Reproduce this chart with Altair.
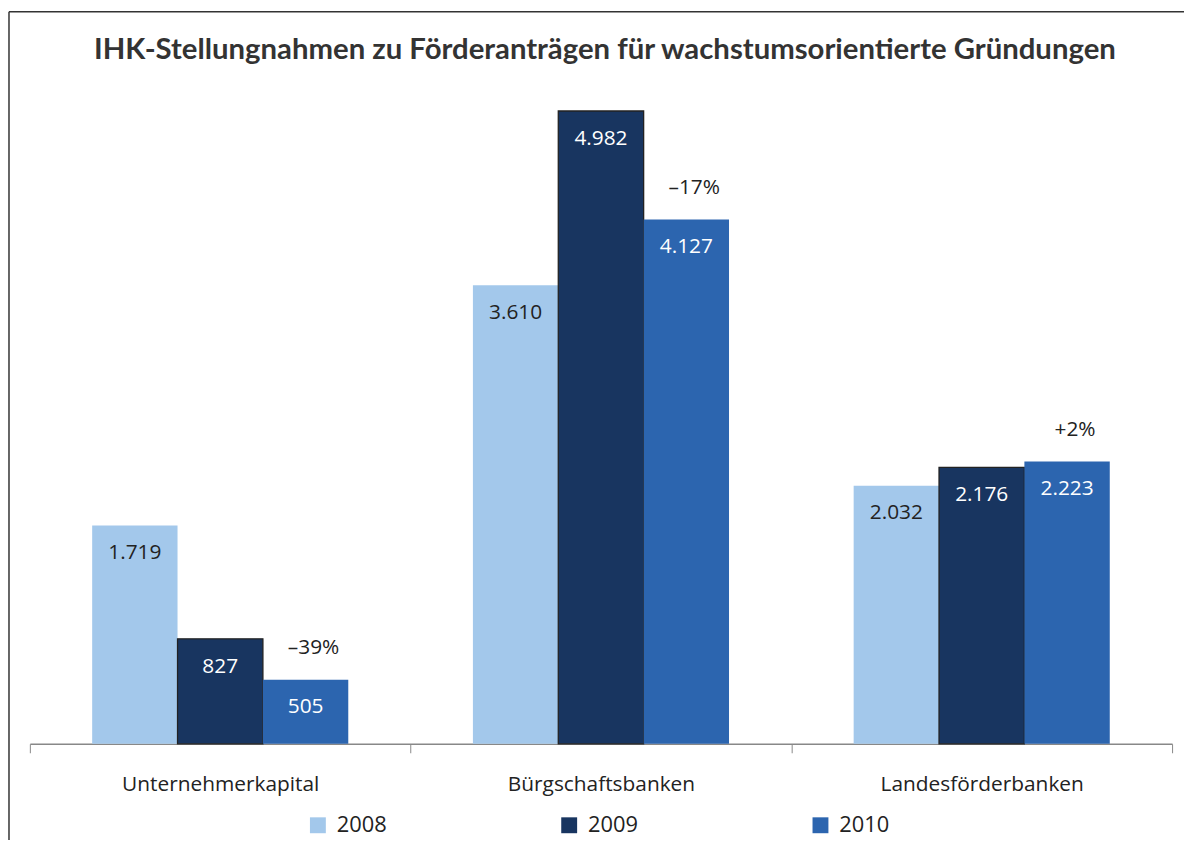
import altair as alt
import pandas as pd

categories = ["Unternehmerkapital", "Bürgschaftsbanken", "Landesförderbanken"]
years = ["2008", "2009", "2010"]
values_2008 = [1719, 3610, 2032]
values_2009 = [827, 4982, 2176]
values_2010 = [505, 4127, 2223]
change_labels = ["–39%", "–17%", "+2%"]
colors = ["#A3C8EB", "#183560", "#2C65AF"]
title_text = "IHK-Stellungnahmen zu Förderanträgen für wachstumsorientierte Gründungen"

rows = []
for i, c in enumerate(categories):
    for y, vals in zip(years, [values_2008, values_2009, values_2010]):
        rows.append({"category": c, "year": y, "value": vals[i]})
df = pd.DataFrame(rows)
ann = pd.DataFrame({"category": categories, "year": ["2010"] * 3,
                    "value": values_2010, "label": change_labels})

FONT = "Open Sans"
TITLE_FONT = "Lato"

xenc = alt.X("category:N", sort=categories,
             scale=alt.Scale(paddingInner=0, paddingOuter=0),
             axis=alt.Axis(title=None, labelAngle=0, tickBand="extent", tickSize=9,
                           domainColor="#888", tickColor="#888", domainWidth=1.5,
                           labelFontSize=21, labelFont=FONT, labelColor="#222",
                           labelPadding=21, labelLimit=0))
xoff = alt.XOffset("year:N", sort=years,
                   scale=alt.Scale(paddingOuter=0.73, paddingInner=0))
yenc = alt.Y("value:Q", scale=alt.Scale(domain=[0, 5200], nice=False, zero=True), axis=None)

bars = alt.Chart(df).mark_bar(stroke="#222").encode(
    x=xenc, xOffset=xoff, y=yenc,
    color=alt.Color("year:N", scale=alt.Scale(domain=years, range=colors),
                    legend=alt.Legend(title=None, orient="none", legendX=279, legendY=736,
                                      direction="horizontal", symbolType="square",
                                      symbolSize=256, symbolStrokeWidth=0,
                                      labelFontSize=22, labelFont=FONT, labelColor="#222",
                                      labelOffset=8, columnPadding=172)),
    strokeWidth=alt.condition(alt.datum.year == "2009", alt.value(1.3), alt.value(0)),
)

value_text = alt.Chart(df).transform_calculate(
    label="replace(format(datum.value, ','), ',', '.')"
).mark_text(dy=28, fontSize=21, font=FONT, baseline="middle").encode(
    x=xenc, xOffset=xoff, y=yenc, text="label:N",
    color=alt.condition(alt.datum.year == "2008", alt.value("#222"), alt.value("white")),
)

ann_text = alt.Chart(ann).mark_text(dy=-32, dx=8, fontSize=21, font=FONT,
                                    baseline="middle", color="#222").encode(
    x=xenc, xOffset=xoff, y=yenc, text="label:N"
)

frame_df = pd.DataFrame({"k": [0]})
left_line = alt.Chart(frame_df).mark_rule(color="#333", strokeWidth=1.5).encode(
    x=alt.value(-21), y=alt.value(-72), y2=alt.value(800))
top_line = alt.Chart(frame_df).mark_rule(color="#333", strokeWidth=1.5).encode(
    x=alt.value(-21), x2=alt.value(1170), y=alt.value(-72))
title_mark = alt.Chart(frame_df).mark_text(
    text=title_text, font=TITLE_FONT, fontSize=29.5, fontWeight="bold", color="#333",
    align="center", baseline="alphabetic").encode(
    x=alt.value(579), y=alt.value(-24))

chart = alt.layer(bars, value_text, ann_text, left_line, top_line, title_mark).properties(
    width=1150, height=665,
    autosize=alt.AutoSizeParams(type="none"),
    padding={"left": 22, "top": 73, "right": 12, "bottom": 94},
).configure_view(stroke=None)

chart.save("out.html", embed_options={"renderer": "svg", "actions": False})
